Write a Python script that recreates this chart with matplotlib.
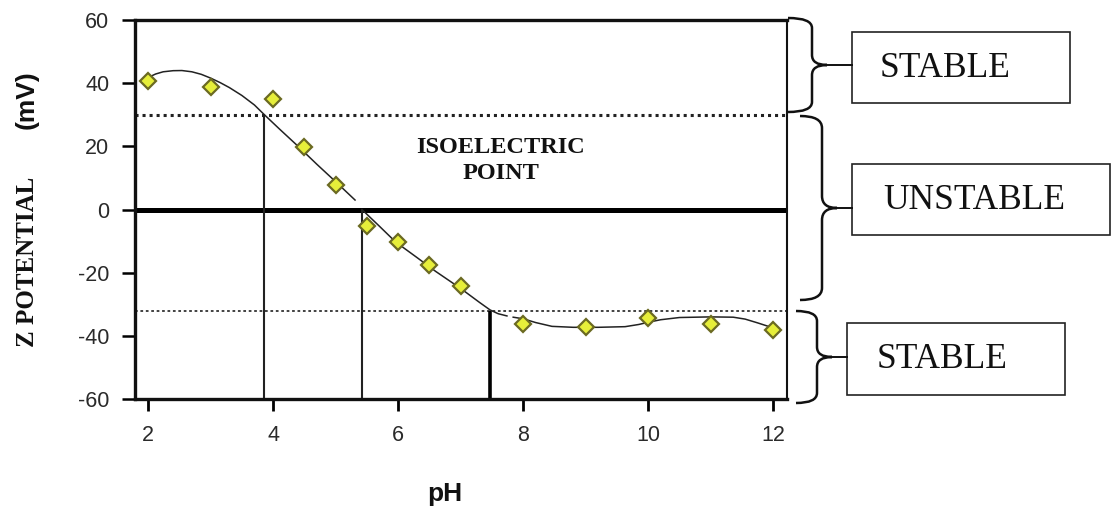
import matplotlib
matplotlib.use("Agg")
import matplotlib.pyplot as plt
from matplotlib.path import Path
from matplotlib.patches import PathPatch, Rectangle
from matplotlib.transforms import Affine2D

plt.rcParams["axes.unicode_minus"] = False

# ---- data ----
ph_points = [2, 3, 4, 4.5, 5, 5.5, 6, 6.5, 7, 8, 9, 10, 11, 12]
zeta_points = [40.7, 38.8, 35.0, 19.8, 7.8, -5.2, -10.3, -17.6, -24.2, -36.2, -37.2, -34.3, -36.2, -38.0]

curve1_x = [2.0, 2.12, 2.24, 2.4, 2.54, 2.7, 2.85, 3.0, 3.15, 3.3, 3.5, 3.7, 3.86, 4.1, 4.4, 4.7, 5.0, 5.31]
curve1_y = [41.8, 42.9, 43.6, 43.95, 44.0, 43.6, 42.8, 41.6, 40.2, 38.6, 36.1, 33.1, 30.0, 25.5, 20.0, 14.3, 8.8, 3.0]
curve2_x = [5.42, 5.7, 5.96, 6.3, 6.6, 7.0, 7.3, 7.47, 7.6, 7.74]
curve2_y = [0.0, -5.3, -10.3, -15.2, -19.6, -25.0, -29.4, -31.8, -33.0, -33.7]
curve3_x = [7.84, 8.0, 8.2, 8.46, 8.8, 9.2, 9.63, 9.85, 10.0, 10.2, 10.5, 11.0, 11.36, 11.55, 11.75, 12.0]
curve3_y = [-34.1, -34.6, -35.8, -37.0, -37.3, -37.3, -37.1, -36.4, -35.7, -34.9, -34.2, -34.0, -34.1, -34.7, -35.9, -37.5]

stable_upper = 30
stable_lower = -32
iso_line = 0
vlines_x = [3.86, 5.42, 7.47]
vlines_top = [30, 0, -32]

xticks = [2, 4, 6, 8, 10, 12]
yticks = [-60, -40, -20, 0, 20, 40, 60]

W, H = 1112, 511
fig = plt.figure(figsize=(W / 100, H / 100), dpi=100)
ax = fig.add_axes([135 / W, 1 - 399 / H, (787 - 135) / W, (399 - 20) / H])
ax.set_xlim(1.79, 12.22)
ax.set_ylim(-60, 60)

for side, lw in [("left", 2.4), ("bottom", 2.4), ("top", 2.4), ("right", 1.5)]:
    ax.spines[side].set_linewidth(lw)
    ax.spines[side].set_color("#111111")

ax.set_xticks(xticks)
ax.set_yticks(yticks)
ax.tick_params(axis="y", direction="out", length=9.5, width=1.8, pad=9,
               labelsize=15.5, labelcolor="#2a2a2a")
ax.tick_params(axis="x", direction="out", length=8.5, width=2.0, pad=10,
               labelsize=15.5, labelcolor="#2a2a2a")
for lab in ax.get_xticklabels() + ax.get_yticklabels():
    lab.set_family("Liberation Sans")

# reference lines
ax.axhline(iso_line, color="black", lw=3.6, zorder=2)
ax.axhline(stable_upper, color="#222222", lw=2.2, ls=(0, (1, 1.3)), zorder=2)
ax.axhline(stable_lower, color="#333333", lw=1.3, ls=(0, (1.5, 1.5)), zorder=2)
ax.vlines(vlines_x[:2], -60, vlines_top[:2], color="#222222", lw=1.5, zorder=2)
ax.vlines(vlines_x[2:], -60, vlines_top[2:], color="black", lw=2.6, zorder=2)

# curve and points
for cx, cy in [(curve1_x, curve1_y), (curve2_x, curve2_y), (curve3_x, curve3_y)]:
    ax.plot(cx, cy, color="#222222", lw=1.1, zorder=3)
ax.plot(ph_points, zeta_points, ls="none", marker="D", ms=8.5,
        mfc="#e6ee3a", mec="#6b6a22", mew=1.6, zorder=4)

ax.text(7.64, 15.6, "ISOELECTRIC\nPOINT", ha="center", va="center",
        family="Liberation Serif", fontweight="bold", fontsize=17.5,
        linespacing=1.3, color="#111111")

# axis labels
fig.text(28 / W, 1 - 262 / H, "Z POTENTIAL", rotation=90, ha="center", va="center",
         family="Liberation Serif", fontweight="bold", fontsize=18, color="#111111")
fig.text(27 / W, 1 - 100 / H, "(mV)", rotation=90, ha="center", va="center",
         family="Liberation Sans", fontweight="bold", fontsize=19, color="#111111")
fig.text(445 / W, 1 - 494 / H, "pH", ha="center", va="center",
         family="Liberation Sans", fontweight="bold", fontsize=19, color="#111111")

# right-side annotations (pixel layout -> figure coordinates)
pix = Affine2D().scale(1 / W, -1 / H).translate(0, 1) + fig.transFigure


def brace(x0, xs, xt, y0, y1, xbox, r=10):
    ym = (y0 + y1) / 2
    verts = [(x0, y0), (xs, y0), (xs, y0 + r),
             (xs, ym - r), (xs, ym), (xt, ym),
             (xs, ym), (xs, ym + r),
             (xs, y1 - r), (xs, y1), (x0, y1)]
    codes = [Path.MOVETO, Path.CURVE3, Path.CURVE3,
             Path.LINETO, Path.CURVE3, Path.CURVE3,
             Path.CURVE3, Path.CURVE3,
             Path.LINETO, Path.CURVE3, Path.CURVE3]
    fig.add_artist(PathPatch(Path(verts, codes), fill=False, lw=1.8,
                             ec="#111111", transform=pix))
    fig.add_artist(plt.Line2D([xt, xbox], [ym, ym], lw=1.4, color="#111111",
                              transform=pix))


brace(788, 812, 827, 18, 112, 852)
brace(800, 822, 837, 116, 300, 852, r=12)
brace(796, 817, 832, 311, 403, 847)

boxes = [
    (852, 32, 1070, 103, 880, "STABLE"),
    (852, 164, 1110, 235, 883, "UNSTABLE"),
    (847, 323, 1065, 395, 877, "STABLE"),
]
for bx0, by0, bx1, by1, tx, label in boxes:
    fig.add_artist(Rectangle((bx0, by0), bx1 - bx0, by1 - by0, fill=False,
                             lw=1.2, ec="#222222", transform=pix))
    fig.text(tx / W, 1 - ((by0 + by1) / 2 + 1) / H, label, ha="left", va="center",
             family="Liberation Serif", fontsize=25.5, color="#111111")

fig.savefig("out.png", dpi=100)
